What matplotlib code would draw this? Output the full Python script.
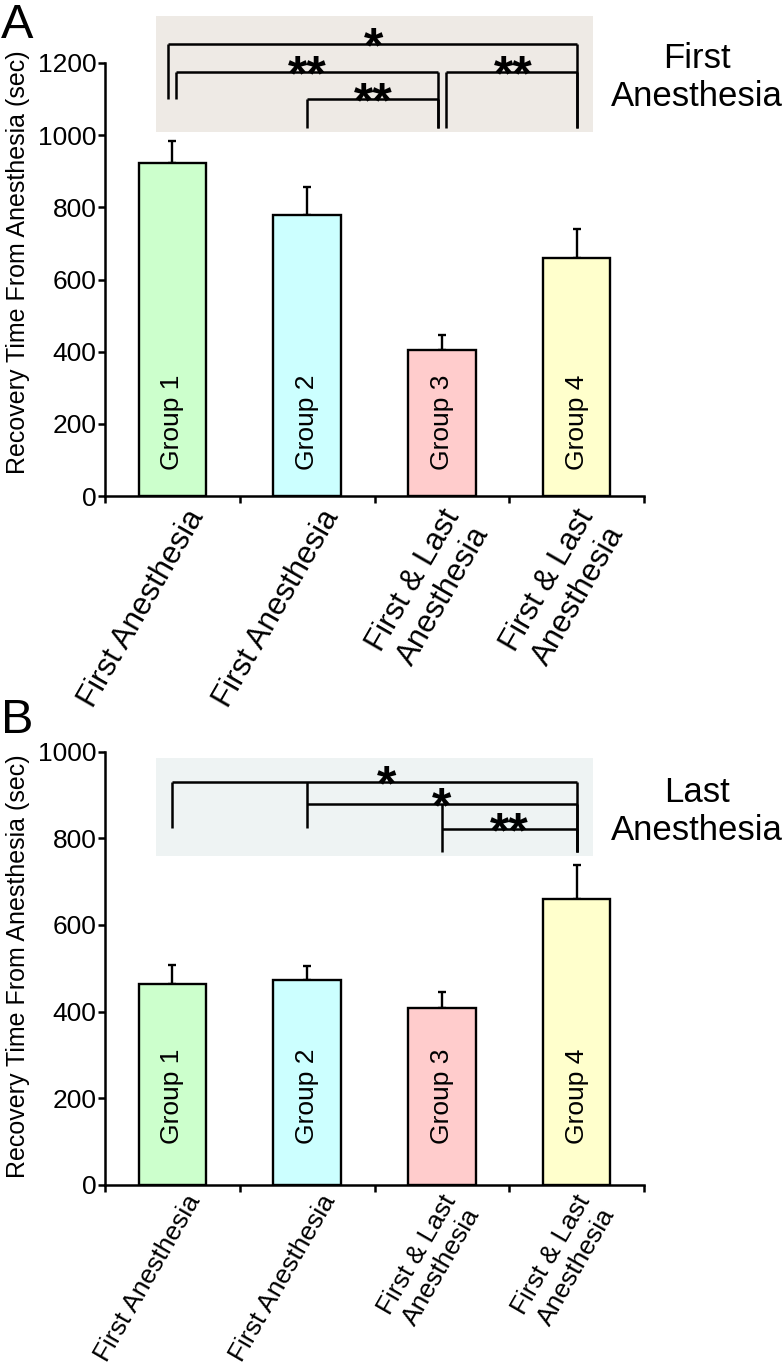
import numpy as np
import matplotlib
matplotlib.use('Agg')
import matplotlib.pyplot as plt
import matplotlib.transforms as mtransforms
from matplotlib.patches import Rectangle

plt.rcParams['font.family'] = ['Liberation Sans', 'DejaVu Sans']

# bar data
groups = ['Group 1', 'Group 2', 'Group 3', 'Group 4']
xlabels = ['First Anesthesia', 'First Anesthesia',
           'First & Last\nAnesthesia', 'First & Last\nAnesthesia']
colors = ['#CCFFCC', '#CCFFFF', '#FFCCCC', '#FFFFCC']

first_mean = [922, 778, 406, 660]
first_err = [62, 77, 40, 80]
last_mean = [463, 473, 408, 660]
last_err = [45, 33, 38, 78]

# significance brackets, panel A
a_left = [0.97, 1.03, 2.0, 3.03]
a_right = [4.0, 2.97, 2.97, 4.0]
a_level = [1253, 1175, 1100, 1175]
a_left_top = [1253, 1175, 1100, 1175]
a_left_foot = [1100, 1100, 1020, 1020]
a_right_foot = [1020, 1020, 1020, 1020]
a_stars = ['*', '**', '**', '**']
a_star_x = [2.49, 2.0, 2.49, 3.53]

# significance brackets, panel B
b_left = [1.0, 2.0, 3.0]
b_right = [4.0, 4.0, 4.0]
b_level = [930, 879, 821]
b_left_top = [930, 930, 879]
b_left_foot = [823, 823, 768]
b_right_foot = [768, 768, 768]
b_stars = ['*', '*', '**']
b_star_x = [2.59, 3.0, 3.5]

fig = plt.figure(figsize=(7.84, 13.7), dpi=100)
W, H = 784, 1370


def draw_panel(ax, means, errs, ymax, box_y, box_color,
               left, right, level, left_top, left_foot, right_foot,
               stars, star_x, note, note_y, xlab_size, xlab_pad):
    x = np.arange(1, len(means) + 1)
    ax.bar(x, means, width=0.5, color=colors, edgecolor='black',
           linewidth=1.7, zorder=3)
    ax.errorbar(x, means, yerr=[np.zeros(len(errs)), errs], fmt='none',
                ecolor='black', elinewidth=1.7, capsize=3, capthick=1.7,
                zorder=2)
    for xi, g in zip(x, groups):
        ax.text(xi, 205, g, rotation=90, ha='center', va='center',
                fontsize=19, zorder=4)

    # shaded box behind the brackets
    ax.add_patch(Rectangle((0.88, box_y[0]), 3.24, box_y[1] - box_y[0],
                           facecolor=box_color, edgecolor='none',
                           clip_on=False, zorder=0))
    kw = dict(color='black', lw=1.8, clip_on=False, solid_capstyle='butt')
    for l, r, lev, lt, lf, rf in zip(left, right, level, left_top,
                                     left_foot, right_foot):
        ax.plot([l, r], [lev, lev], **kw)
        ax.plot([l, l], [lt, lf], **kw)
        ax.plot([r, r], [lev, rf], **kw)
    for s, sx, lev in zip(stars, star_x, level):
        ax.annotate(s, (sx, lev), xytext=(0, -13), textcoords='offset points',
                    ha='center', va='baseline', fontsize=36,
                    fontweight='bold', annotation_clip=False)

    # va='baseline' lines up the last line of the note
    ax.text(4.89, note_y, note, ha='center', va='baseline', fontsize=25,
            clip_on=False)

    ax.set_xlim(0.5, 4.5)
    ax.set_ylim(0, ymax)
    for sp in ['top', 'right']:
        ax.spines[sp].set_visible(False)
    for sp in ['left', 'bottom']:
        ax.spines[sp].set_linewidth(1.8)
    ax.spines['left'].set_bounds(0, ymax)
    ax.set_yticks(np.arange(0, ymax + 1, 200))
    ax.set_xticks(np.arange(0.5, 5, 1.0))
    ax.set_xticklabels([])
    ax.set_xticks(x, minor=True)
    ax.set_xticklabels(xlabels, minor=True, rotation=60, ha='right',
                       va='top', rotation_mode='anchor', fontsize=xlab_size)
    ax.tick_params(which='major', direction='out', length=5, width=1.8,
                   labelsize=19, pad=1)
    ax.tick_params(axis='x', which='minor', length=0, pad=xlab_pad)
    for lab in ax.get_xticklabels(minor=True):
        dx = -2 if '\n' in lab.get_text() else 12
        lab.set_transform(lab.get_transform() + mtransforms.ScaledTranslation(
            dx / 100, 0, fig.dpi_scale_trans))


ax_a = fig.add_axes([105 / W, 1 - 496 / H, 539 / W, 433 / H])
draw_panel(ax_a, first_mean, first_err, 1200, (1008, 1330), '#EEEAE5',
           a_left, a_right, a_level, a_left_top, a_left_foot, a_right_foot,
           a_stars, a_star_x, 'First\nAnesthesia', 1081, 22.5, 6)

ax_b = fig.add_axes([105 / W, 1 - 1185 / H, 539 / W, 433.5 / H])
draw_panel(ax_b, last_mean, last_err, 1000, (759, 985), '#EEF3F3',
           b_left, b_right, b_level, b_left_top, b_left_foot, b_right_foot,
           b_stars, b_star_x, 'Last\nAnesthesia', 796, 19, 4)

ylabel = 'Recovery Time From Anesthesia (sec)'
fig.text(18 / W, 1 - 262 / H, ylabel, rotation=90, ha='center', va='center',
         fontsize=18)
fig.text(18 / W, 1 - 966 / H, ylabel, rotation=90, ha='center', va='center',
         fontsize=18)
fig.text(1 / W, 1 - 3 / H, 'A', ha='left', va='top', fontsize=35)
fig.text(1 / W, 1 - 698 / H, 'B', ha='left', va='top', fontsize=35)

fig.savefig('out.png', dpi=100)
